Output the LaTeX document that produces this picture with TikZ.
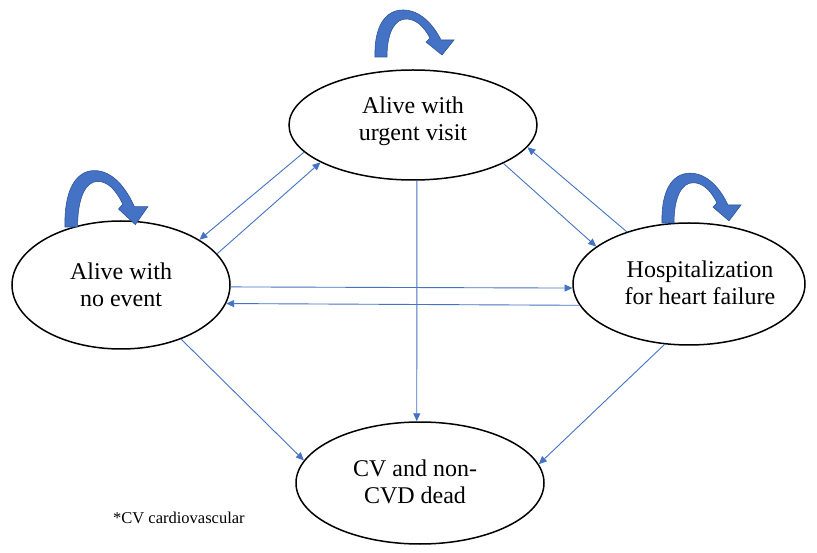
\documentclass[tikz,border=0pt]{standalone}
\usepackage{fontspec}
\setmainfont{Liberation Serif}
\usetikzlibrary{shapes.geometric,arrows.meta}
\definecolor{arblue}{HTML}{4472C4}
\definecolor{arblue2}{HTML}{2F5597}
\begin{document}
\begin{tikzpicture}[x=1pt,y=-1pt,
 state/.style={draw=black,line width=1.5pt,ellipse,inner sep=0pt},
 lbl/.style={align=center,font=\fontsize{24}{27}\selectfont,inner sep=0pt},
 arr/.style={draw=arblue,line width=0.9pt,-{Triangle[length=8pt,width=7pt]}},
 loopar/.pic={\filldraw[fill=arblue,draw=arblue2,line width=0.6pt]
   (0,0) .. controls (-1,-30) and (10,-47) .. (28,-47)
   .. controls (45,-47) and (58,-33) .. (66,-17)
   -- (79,-17) -- (67,-2) -- (51,-15) -- (55,-19)
   .. controls (48,-32) and (40,-38) .. (31,-38)
   .. controls (20,-38) and (12,-25) .. (12,0) -- cycle;}
]
\useasboundingbox (0,0) rectangle (817,553);
% states
\node[state,minimum width=248pt,minimum height=110pt] (T) at (413,125) {};
\node[state,minimum width=218pt,minimum height=128pt] (L) at (121,285) {};
\node[state,minimum width=232pt,minimum height=122pt] (R) at (689,284) {};
\node[state,minimum width=248pt,minimum height=122pt] (B) at (420,483) {};
% labels
\node[lbl] (tT) at (413,121) {Alive with\\urgent visit};
\node[lbl] (tL) at (121,285) {Alive with\\no event};
\node[lbl] (tR) at (700,283) {Hospitalization\\for heart failure};
\node[lbl] (tB) at (415,482) {CV and non-\\CVD dead};
% self loops
\pic at (375,57) {loopar};
\pic[xscale=1.05,yscale=1.2] at (65,227) {loopar};
\pic[yscale=1.06] at (662,223) {loopar};
% transitions
\draw[arr] (T.194) -- (L.30);
\draw[arr] (L.18) -- (T.202);
\draw[arr] (T.337) -- (R.158);
\draw[arr] (R.140) -- (T.349);
\draw[arr] (L.359) -- (R.182);
\draw[arr] (R.191) -- (L.350);
\draw[arr] (T.274) -- (B.93);
\draw[arr] (L.318) -- (B.169);
\draw[arr] (R.248) -- (B.9);
% footnote
\node[anchor=base west,font=\fontsize{16.5}{20}\selectfont,inner sep=0pt] (fn) at (113,523) {*CV cardiovascular};
\end{tikzpicture}
\end{document}
